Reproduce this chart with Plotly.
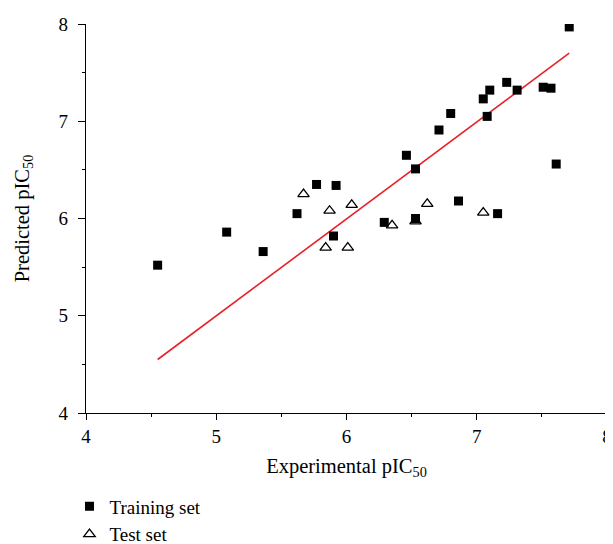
import plotly.graph_objects as go

# Training set (experimental, predicted)
train_exp = [4.55, 5.08, 5.36, 5.62, 5.77, 5.92, 5.90, 6.29, 6.53, 6.46, 6.53, 6.86, 7.16, 7.61,
             7.71, 7.23, 7.10, 7.05, 7.31, 7.51, 7.57, 6.80, 6.71, 7.08]
train_pred = [5.52, 5.86, 5.66, 6.05, 6.35, 6.34, 5.82, 5.96, 6.00, 6.65, 6.51, 6.18, 6.05, 6.56,
              7.97, 7.40, 7.32, 7.23, 7.32, 7.35, 7.34, 7.08, 6.91, 7.05]

# Test set
test_exp = [5.67, 5.87, 6.04, 5.84, 6.01, 6.35, 6.53, 6.62, 7.05]
test_pred = [6.25, 6.08, 6.14, 5.70, 5.70, 5.93, 5.97, 6.15, 6.06]

# Regression line endpoints
line_x = [4.55, 7.71]
line_y = [4.55, 7.70]

FONT = "Liberation Serif"

fig = go.Figure()
fig.add_trace(go.Scatter(x=line_x, y=line_y, mode="lines",
                         line=dict(color="#e8202a", width=1.6), showlegend=False))
fig.add_trace(go.Scatter(x=train_exp, y=train_pred, mode="markers", name="Training set",
                         marker=dict(symbol="square", size=9, color="black")))
fig.add_trace(go.Scatter(x=test_exp, y=test_pred, mode="markers", name="Test set",
                         marker=dict(symbol="triangle-up-open", size=10, color="black",
                                     line=dict(width=1.3, color="black"))))

axis_common = dict(
    showgrid=False, zeroline=False, showline=True, linecolor="black", linewidth=1.3,
    ticks="outside", tickwidth=1.2, tickcolor="black",
    minor=dict(ticks="outside", ticklen=3, tickwidth=1, tickcolor="black", dtick=0.5),
    tickfont=dict(family=FONT, size=19, color="black"),
    dtick=1, automargin=False,
)

fig.update_xaxes(range=[4, 8], ticklen=6, ticklabelstandoff=0,
                 title=dict(text="Experimental pIC<sub>50</sub>",
                            font=dict(family=FONT, size=20.5, color="black"),
                            standoff=12), **axis_common)
fig.update_yaxes(range=[4, 8], ticklen=7, ticklabelstandoff=6,
                 title=dict(text="Predicted pIC<sub>50</sub>",
                            font=dict(family=FONT, size=20.5, color="black"),
                            standoff=23), **axis_common)

fig.update_layout(
    width=605, height=536,
    margin=dict(l=77.5, r=6.3, t=16, b=131, autoexpand=False),
    plot_bgcolor="white", paper_bgcolor="white",
    font=dict(family=FONT, size=19, color="black"),
    legend=dict(x=-0.0317, y=-0.1915, xanchor="left", yanchor="top",
                font=dict(family=FONT, size=19, color="black"),
                bgcolor="rgba(0,0,0,0)", tracegroupgap=0, itemwidth=30),
)

fig.write_html("out.html")
